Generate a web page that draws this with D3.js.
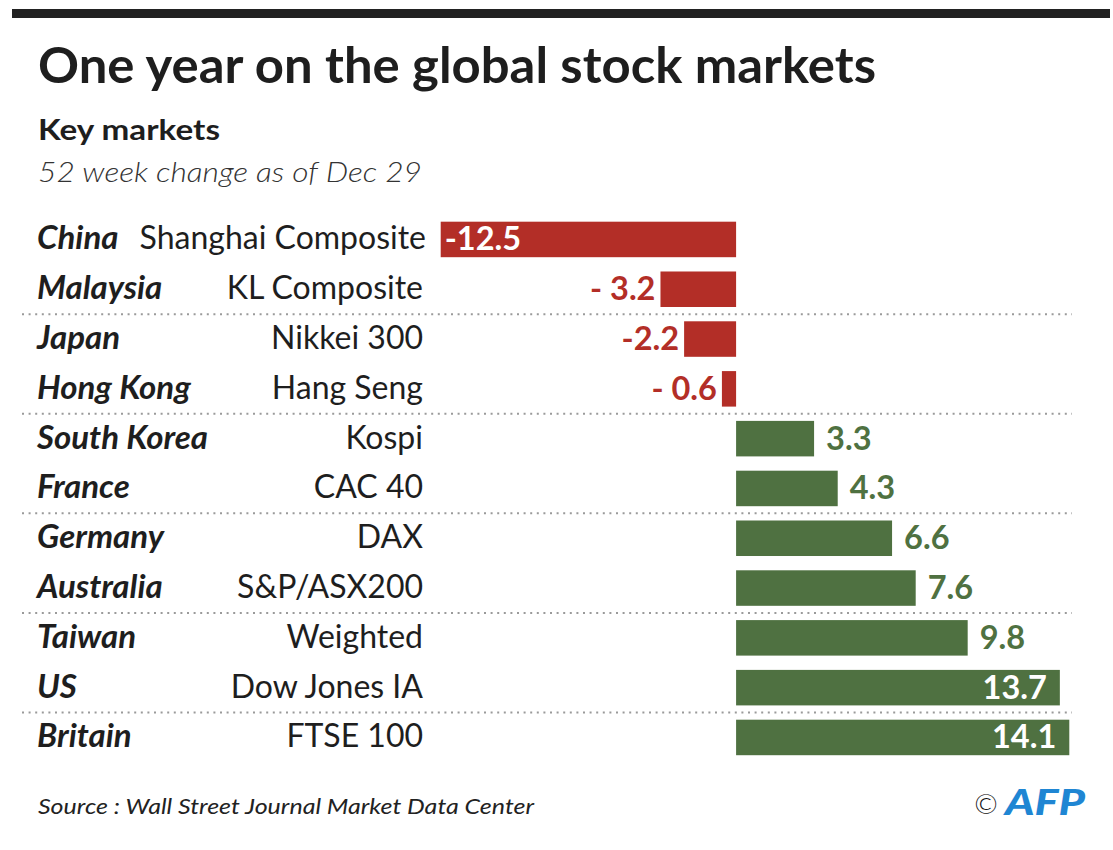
<!DOCTYPE html>
<html>
<head>
<meta charset="utf-8">
<script src="https://cdn.jsdelivr.net/npm/d3@7/dist/d3.min.js"></script>
<style>
  html, body { margin: 0; padding: 0; background: #fff; }
  svg { display: block; }
  text { font-family: Lato, "Open Sans", sans-serif; }
</style>
</head>
<body>
<svg id="chart" width="1113" height="850"></svg>
<script>
// ---- Data ----
const countries = ["China", "Malaysia", "Japan", "Hong Kong", "South Korea", "France",
                   "Germany", "Australia", "Taiwan", "US", "Britain"];
const indices = ["Shanghai Composite", "KL Composite", "Nikkei 300", "Hang Seng", "Kospi", "CAC 40",
                 "DAX", "S&P/ASX200", "Weighted", "Dow Jones IA", "FTSE 100"];
const values = [-12.5, -3.2, -2.2, -0.6, 3.3, 4.3, 6.6, 7.6, 9.8, 13.7, 14.1];
const valueLabels = ["-12.5", "- 3.2", "-2.2", "- 0.6", "3.3", "4.3", "6.6", "7.6", "9.8", "13.7", "14.1"];
const separatorsAfter = [1, 3, 5, 7, 9];

const title = "One year on the global stock markets";
const subtitle = "Key markets";
const note = "52 week change as of Dec 29";
const source = "Source : Wall Street Journal Market Data Center";

const RED = "#b32e27";
const GREEN = "#4f7141";

const svg = d3.select("#chart");

// top rule
svg.append("rect").attr("x", 12).attr("y", 9).attr("width", 1098).attr("height", 9).attr("fill", "#222");

function fitText(sel, w) {
  sel.attr("textLength", w).attr("lengthAdjust", "spacingAndGlyphs");
}

svg.append("text").attr("x", 38).attr("y", 83)
  .attr("font-size", 49).attr("font-weight", 700).attr("fill", "#1e1e1e")
  .text(title).call(fitText, 838);

svg.append("text").attr("x", 38).attr("y", 140)
  .attr("font-size", 28).attr("font-weight", 700).attr("fill", "#1e1e1e")
  .text(subtitle).call(fitText, 182);

svg.append("text").attr("x", 38).attr("y", 182)
  .attr("font-size", 28).attr("font-weight", 300).attr("font-style", "italic").attr("fill", "#333")
  .text(note).call(fitText, 384);

// ---- Scales ----
const x = d3.scaleLinear().domain([-12.5, 14.1]).range([440.7, 1069.3]);
const y = d3.scaleBand().domain(d3.range(values.length)).range([207.4, 769.5]).padding(0.287);
const bw = y.bandwidth();
const gap = y.step() - bw;

// separators
svg.append("g").selectAll("line").data(separatorsAfter).join("line")
  .attr("x1", 22).attr("x2", 1072)
  .attr("y1", d => y(d) + bw + gap / 2).attr("y2", d => y(d) + bw + gap / 2)
  .attr("stroke", "#9a9a9a").attr("stroke-width", 2).attr("stroke-dasharray", "2,4.6");

// bars
svg.append("g").selectAll("rect").data(values).join("rect")
  .attr("x", d => x(Math.min(0, d)))
  .attr("width", d => Math.abs(x(d) - x(0)))
  .attr("y", (d, i) => y(i))
  .attr("height", bw)
  .attr("fill", d => d < 0 ? RED : GREEN);

// row labels
const rows = svg.append("g");
rows.selectAll("text.country").data(countries).join("text")
  .attr("class", "country")
  .attr("x", 37).attr("y", (d, i) => y(i) + bw / 2 + 10)
  .attr("font-size", 33).attr("font-style", "italic").attr("font-weight", 700)
  .attr("fill", "#1e1e1e").text(d => d);
rows.selectAll("text.index").data(indices).join("text")
  .attr("class", "index")
  .attr("x", (d, i) => i === 0 ? 426 : 423).attr("y", (d, i) => y(i) + bw / 2 + 10)
  .attr("text-anchor", "end")
  .attr("font-size", 32).attr("font-weight", 400)
  .attr("fill", "#1e1e1e").text(d => d);

// value labels
svg.append("g").selectAll("text").data(values).join("text")
  .attr("y", (d, i) => y(i) + bw / 2 + 11)
  .attr("font-size", 32.5).attr("font-weight", 700)
  .each(function (d, i) {
    const t = d3.select(this);
    const inside = Math.abs(d) >= 12;
    if (d < 0) {
      if (inside) t.attr("x", x(d) + 4).attr("text-anchor", "start").attr("fill", "#fff");
      else t.attr("x", x(d) - 5).attr("text-anchor", "end").attr("fill", RED);
    } else {
      if (inside) t.attr("x", x(d) - 13).attr("text-anchor", "end").attr("fill", "#fff");
      else t.attr("x", x(d) + 12).attr("text-anchor", "start").attr("fill", GREEN);
    }
  })
  .text((d, i) => valueLabels[i]);

// source
svg.append("text").attr("x", 38).attr("y", 814)
  .attr("font-size", 22).attr("font-style", "italic").attr("font-weight", 400).attr("fill", "#222")
  .text(source).call(fitText, 496);

// copyright + AFP
svg.append("text").attr("x", 986).attr("y", 814).attr("text-anchor", "middle")
  .attr("font-size", 28).attr("font-weight", 300).attr("fill", "#111").text("©");
const afp = svg.append("g");
afp.append("text").attr("x", 1005).attr("y", 815)
  .attr("font-size", 36).attr("font-weight", 900).attr("font-style", "italic")
  .attr("fill", "#1f86d3").text("AFP").call(fitText, 80);
</script>
</body>
</html>
